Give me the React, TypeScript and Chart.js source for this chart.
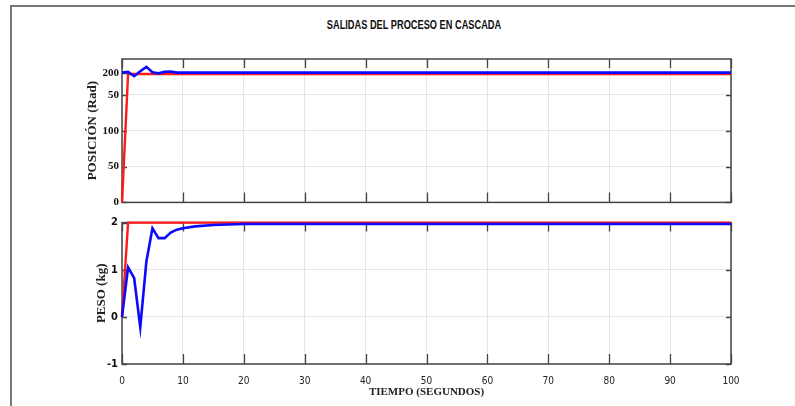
import React, { useEffect, useRef } from "react";
import { Chart, registerables } from "chart.js";

Chart.register(...registerables);

// ---- data ----
const TIME = [0, 1, 2, 3, 4, 5, 6, 7, 8, 9, 10, 12, 15, 20, 30, 40, 50, 60, 70, 80, 90, 100];
const POS_REF = [0, 179, 179, 179, 179, 179, 179, 179, 179, 179, 179, 179, 179, 179, 179, 179, 179, 179, 179, 179, 179, 179];
const POS_OUT = [181, 182, 176, 183, 189, 181.5, 180, 182, 182.5, 181, 181, 181, 181, 181, 181, 181, 181, 181, 181, 181, 181, 181];
const PESO_REF = [0, 2, 2, 2, 2, 2, 2, 2, 2, 2, 2, 2, 2, 2, 2, 2, 2, 2, 2, 2, 2, 2];
const PESO_OUT = [0, 1.05, 0.82, -0.22, 1.17, 1.88, 1.67, 1.67, 1.79, 1.85, 1.88, 1.92, 1.95, 1.97, 1.97, 1.97, 1.97, 1.97, 1.97, 1.97, 1.97, 1.97];

const X_TICKS = [0, 10, 20, 30, 40, 50, 60, 70, 80, 90, 100];
const POS_TICKS = [0, 50, 100, 150, 180];
const POS_TICK_LABELS = ["0", "50", "100", "50", "200"];
const PESO_TICKS = [-1, 0, 1, 2];
const PESO_TICK_LABELS = ["-1", "0", "1", "2"];

const TITLE = "SALIDAS DEL PROCESO EN CASCADA";
const POS_LABEL = "POSICIÓN (Rad)";
const PESO_LABEL = "PESO (kg)";
const X_LABEL = "TIEMPO (SEGUNDOS)";

const SERIF = "'Liberation Serif', 'Times New Roman', serif";
const NARROW = "'Liberation Sans Narrow', 'Arial Narrow', 'DejaVu Sans Condensed', sans-serif";
const GRID = "#e6e6e6";

const framePlugin = {
  id: "matlabFrame",
  beforeDatasetsDraw(chart: any) {
    const { ctx, chartArea: a, scales } = chart;
    ctx.save();
    ctx.strokeStyle = "#444";
    ctx.lineWidth = 1.5;
    ctx.strokeRect(a.left, a.top, a.right - a.left, a.bottom - a.top);
    ctx.lineWidth = 1.3;
    const xs = scales.x;
    xs.ticks.forEach((t: any) => {
      const px = Math.round(xs.getPixelForValue(t.value)) + 0.5;
      ctx.beginPath();
      ctx.moveTo(px, a.bottom);
      ctx.lineTo(px, a.bottom - 10);
      ctx.moveTo(px, a.top);
      ctx.lineTo(px, a.top + 9);
      ctx.stroke();
    });
    const ys = scales.y;
    ys.ticks.forEach((t: any) => {
      const py = Math.round(ys.getPixelForValue(t.value)) + 0.5;
      ctx.beginPath();
      ctx.moveTo(a.left, py);
      ctx.lineTo(a.left + 5, py);
      ctx.moveTo(a.right, py);
      ctx.lineTo(a.right - 5, py);
      ctx.stroke();
    });
    ctx.restore();
  },
};

function series(ys: number[]) {
  return TIME.map((t, i) => ({ x: t, y: ys[i] }));
}

export default function App() {
  const topRef = useRef<HTMLCanvasElement>(null);
  const botRef = useRef<HTMLCanvasElement>(null);

  useEffect(() => {
    const top = new Chart(topRef.current!, {
      type: "line",
      data: {
        datasets: [
          { data: series(POS_OUT), borderColor: "#0a0aff", borderWidth: 2.6, pointRadius: 0, tension: 0, clip: false as any },
          { data: series(POS_REF), borderColor: "#ff1a1a", borderWidth: 2.4, pointRadius: 0, tension: 0, clip: false as any },
        ],
      },
      options: {
        animation: false,
        responsive: false,
        maintainAspectRatio: false,
        layout: { padding: { left: 78, top: 59, right: 64, bottom: 0 } },
        plugins: { legend: { display: false }, tooltip: { enabled: false } },
        scales: {
          x: {
            type: "linear",
            min: 0,
            max: 100,
            afterBuildTicks: (s: any) => { s.ticks = X_TICKS.map((v) => ({ value: v })); },
            afterFit: (s: any) => { s.height = 9; },
            ticks: { display: false },
            grid: { color: GRID, drawTicks: false },
            border: { display: false },
          },
          y: {
            type: "linear",
            min: 0,
            max: 200,
            afterBuildTicks: (s: any) => { s.ticks = POS_TICKS.map((v) => ({ value: v })); },
            afterFit: (s: any) => { s.width = 44; },
            ticks: {
              callback: (_v: any, i: number) => POS_TICK_LABELS[i],
              font: { family: SERIF, weight: "bold", size: 11 },
              color: "#111",
              padding: 3,
            },
            grid: { color: GRID, drawTicks: false },
            border: { display: false },
            title: {
              display: true,
              text: POS_LABEL,
              font: { family: SERIF, weight: "bold", size: 13 },
              color: "#222",
              padding: { top: 7, bottom: 0 },
            },
          },
        },
      },
      plugins: [framePlugin],
    } as any);

    const bot = new Chart(botRef.current!, {
      type: "line",
      data: {
        datasets: [
          { data: series(PESO_OUT), borderColor: "#0a0aff", borderWidth: 2.6, pointRadius: 0, tension: 0, clip: false as any },
          { data: series(PESO_REF), borderColor: "#ff1a1a", borderWidth: 2.4, pointRadius: 0, tension: 0, clip: false as any },
        ],
      },
      options: {
        animation: false,
        responsive: false,
        maintainAspectRatio: false,
        layout: { padding: { left: 78, top: 8, right: 64, bottom: 0 } },
        plugins: { legend: { display: false }, tooltip: { enabled: false } },
        scales: {
          x: {
            type: "linear",
            min: 0,
            max: 100,
            afterBuildTicks: (s: any) => { s.ticks = X_TICKS.map((v) => ({ value: v })); },
            afterFit: (s: any) => { s.height = 42; },
            ticks: {
              font: { family: NARROW, size: 10 },
              color: "#222",
              padding: 11,
              maxRotation: 0,
            },
            grid: { color: GRID, drawTicks: false },
            border: { display: false },
            title: {
              display: true,
              text: X_LABEL,
              font: { family: SERIF, weight: "bold", size: 11 },
              color: "#222",
              padding: { top: 0, bottom: 7 },
            },
          },
          y: {
            type: "linear",
            min: -1,
            max: 2,
            afterBuildTicks: (s: any) => { s.ticks = PESO_TICKS.map((v) => ({ value: v })); },
            afterFit: (s: any) => { s.width = 44; },
            ticks: {
              callback: (_v: any, i: number) => PESO_TICK_LABELS[i],
              font: { family: NARROW, weight: "bold", size: 11 },
              color: "#111",
              padding: 4,
            },
            grid: { color: GRID, drawTicks: false },
            border: { display: false },
            title: {
              display: true,
              text: PESO_LABEL,
              font: { family: SERIF, weight: "bold", size: 13 },
              color: "#222",
              padding: { top: 16, bottom: 0 },
            },
          },
        },
      },
      plugins: [framePlugin],
    } as any);

    return () => {
      top.destroy();
      bot.destroy();
    };
  }, []);

  return (
    <div style={{ position: "fixed", left: 0, top: 0, width: 795, height: 406, background: "#fff", overflow: "hidden" }}>
      <div
        style={{
          position: "absolute",
          left: 10,
          top: 5,
          right: 0,
          bottom: 0,
          borderTop: "2px solid #777",
          borderLeft: "2px solid #777",
        }}
      />
      <div
        style={{
          position: "absolute",
          left: 0,
          width: 828,
          top: 17,
          textAlign: "center",
          fontFamily: "'Liberation Sans', Arial, sans-serif",
          fontWeight: "bold",
          fontSize: 12,
          lineHeight: "16px",
          color: "#111",
          transform: "scaleX(0.77)",
          transformOrigin: "414px 0",
        }}
      >
        {TITLE}
      </div>
      <canvas ref={topRef} width={795} height={212} style={{ position: "absolute", left: 0, top: 0 }} />
      <canvas ref={botRef} width={795} height={194} style={{ position: "absolute", left: 0, top: 212 }} />
    </div>
  );
}
